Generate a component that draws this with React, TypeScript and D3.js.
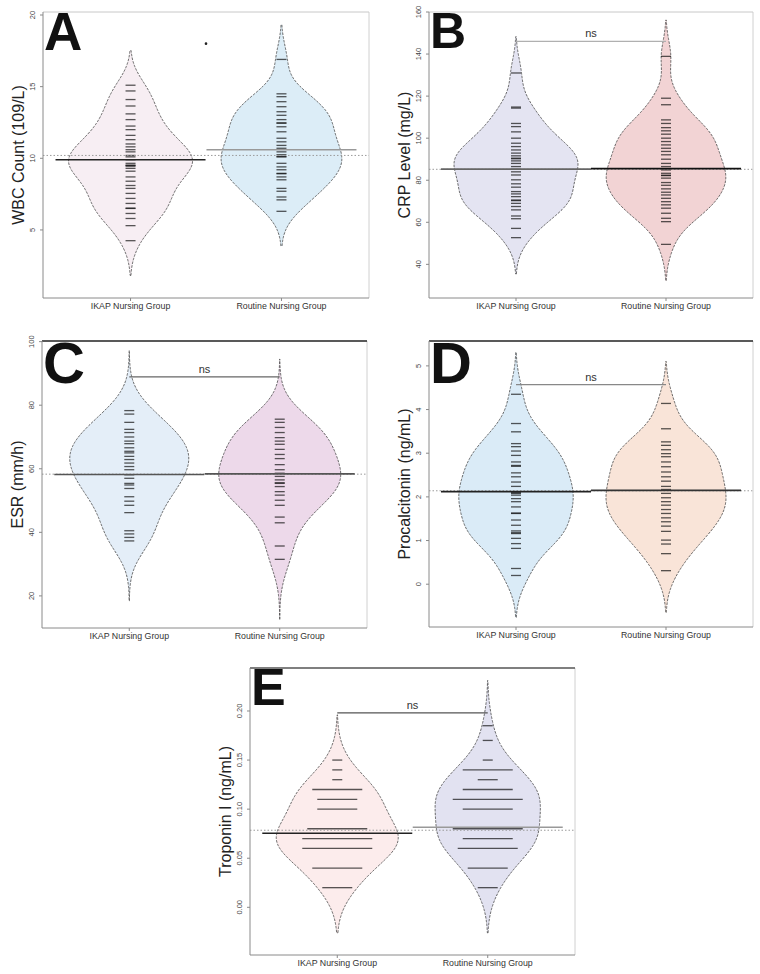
import React from 'react';
import * as d3 from 'd3';

const groups = ['IKAP Nursing Group', 'Routine Nursing Group'];

// A - WBC count
const wbcIkap = [15.1, 14.7, 14.1, 13.65, 13.1, 12.7, 12.25, 12.0, 11.6, 11.3, 11.0, 10.8, 10.6, 10.45, 10.2, 10.1, 9.9, 9.65, 9.5, 9.52, 9.45, 9.3, 9.1, 8.7, 8.4, 8.1, 7.9, 7.55, 7.2, 6.85, 6.5, 6.52, 6.15, 5.8, 5.3, 4.25];
const wbcRoutine = [16.9, 14.5, 14.3, 13.95, 13.6, 13.25, 13.0, 12.7, 12.45, 12.47, 12.2, 11.85, 11.4, 11.15, 10.9, 10.7, 10.45, 10.25, 10.1, 10.12, 9.65, 9.4, 9.2, 8.95, 8.92, 8.7, 8.5, 7.9, 7.7, 7.3, 7.1, 6.3];
const wbcMeans = [9.9, 10.6];
const wbcOverall = 10.2;
const wbcStray = 18;
const wbcTicks = [5, 10, 15, 20];

// B - CRP
const crpIkap = [131, 114.8, 114.3, 107, 105.5, 103, 100, 97.6, 96, 94.4, 92.9, 91.6, 90.5, 90.2, 89.2, 88, 86.5, 85.2, 84, 82.5, 80.2, 78.3, 76.7, 74.6, 73.5, 72.2, 70.6, 70.3, 69, 67.5, 65.9, 63, 61.7, 57.1, 52.7];
const crpRoutine = [138.9, 119, 115.9, 108.7, 107, 105, 103.5, 101.9, 100, 98.4, 96.8, 95.2, 93.7, 92.1, 90, 88, 86.5, 84.9, 83.3, 82.2, 82.4, 81, 78.9, 77.6, 75.9, 74.3, 73, 71.4, 69.8, 68.3, 66.7, 64.3, 61.9, 60.3, 49.5];
const crpMeans = [85.3, 85.5];
const crpOverall = 85.2;
const crpBracket = 146;
const crpTicks = [40, 60, 80, 100, 120, 140, 160];

// C - ESR
const esrIkap = [78.3, 77.2, 74.6, 72.4, 71.4, 70, 68.7, 67.9, 66.6, 65.5, 65, 63.9, 62.9, 61.8, 60.7, 59.7, 58.1, 57, 55.4, 54.9, 53.8, 51.2, 49.8, 48.5, 46.2, 40.5, 39.5, 38.4, 37.3];
const esrRoutine = [75.6, 74.6, 73, 71.4, 69.8, 68.7, 67.7, 66.1, 64.5, 63.2, 61.3, 59.7, 58.6, 57.6, 56.5, 55.6, 55.4, 54.4, 52.8, 51.7, 50.1, 48.5, 44.8, 43, 35.7, 31.5];
const esrMeans = [58.2, 58.4];
const esrOverall = 58.3;
const esrBracket = 88.9;
const esrTicks = [20, 40, 60, 80, 100];

// D - Procalcitonin
const pctIkap = [4.35, 3.68, 3.49, 3.22, 3.15, 3.05, 2.95, 2.8, 2.7, 2.72, 2.55, 2.46, 2.34, 2.24, 2.08, 2.1, 2.04, 1.96, 1.89, 1.77, 1.62, 1.63, 1.47, 1.35, 1.22, 1.16, 1.18, 1.05, 0.93, 0.82, 0.36, 0.2];
const pctRoutine = [4.14, 3.56, 3.26, 3.18, 3.08, 2.99, 2.92, 2.8, 2.69, 2.57, 2.46, 2.36, 2.24, 2.17, 2.08, 1.98, 1.89, 1.81, 1.71, 1.62, 1.52, 1.43, 1.33, 1.21, 1.01, 0.92, 0.7, 0.31];
const pctMeans = [2.12, 2.15];
const pctOverall = 2.14;
const pctBracket = 4.57;
const pctTicks = [0, 1, 2, 3, 4, 5];

// E - Troponin I (values with how many patients share each)
const tnIkap = [0.15, 0.14, 0.13, 0.12, 0.11, 0.10, 0.08, 0.07, 0.06, 0.04, 0.02];
const tnIkapCounts = [1, 1, 1, 5, 4, 4, 6, 7, 7, 5, 3];
const tnRoutine = [0.185, 0.17, 0.15, 0.14, 0.13, 0.12, 0.11, 0.10, 0.08, 0.07, 0.06, 0.04, 0.02];
const tnRoutineCounts = [1, 1, 1, 5, 2, 5, 7, 5, 7, 5, 6, 4, 2];
const tnMeans = [0.0755, 0.0815];
const tnOverall = 0.0785;
const tnBracket = 0.198;
const tnTicks = [0, 0.05, 0.1, 0.15, 0.2];

const FONT = '"Liberation Sans", Arial, sans-serif';

type PanelProps = {
  letter: string; letterSize: number;
  title: string;
  box: { x: number; y: number; w: number; h: number };
  domain: [number, number];
  ticks: number[]; fmt: (v: number) => string;
  series: number[][]; counts?: number[][];
  means: number[]; overall: number; bracket?: number; stray?: number;
  bw: number; cut: number; maxHalf: number;
  fills: string[]; meanColors: string[];
  topColor: string; topWidth: number; bracketColor: string;
};

function Panel(p: PanelProps) {
  const { box } = p;
  const x = d3.scaleLinear().domain([0.42, 2.58]).range([box.x, box.x + box.w]);
  const y = d3.scaleLinear().domain(p.domain).range([box.y + box.h, box.y]);
  const centers = [x(1), x(2)];
  const bottom = box.y + box.h;
  const countsOf = (gi: number) => p.counts ? p.counts[gi] : p.series[gi].map(() => 1);

  // gaussian kernel density for each bean, cut a few bandwidths past the data
  const dens = p.series.map((vals, gi) => {
    const cnt = countsOf(gi);
    const n = d3.sum(cnt);
    const lo = (d3.min(vals) as number) - p.cut * p.bw;
    const hi = (d3.max(vals) as number) + p.cut * p.bw;
    return d3.range(241).map(i => {
      const v = lo + ((hi - lo) * i) / 240;
      const d = d3.sum(vals, (xv, k) => cnt[k] * Math.exp(-0.5 * ((v - xv) / p.bw) ** 2));
      return { v, d: d / n };
    });
  });
  const dmax = d3.max(dens.flat(), d => d.d) as number;
  const wScale = d3.scaleLinear().domain([0, dmax]).range([0, p.maxHalf]);

  return (
    <g fontFamily={FONT}>
      {dens.map((pts, gi) => {
        const area = d3.area<{ v: number; d: number }>()
          .y(d => y(d.v))
          .x0(d => centers[gi] - wScale(d.d))
          .x1(d => centers[gi] + wScale(d.d))
          .curve(d3.curveBasis);
        return (
          <path key={gi} d={area(pts) || ''} fill={p.fills[gi]} stroke="#3a3a3a"
            strokeWidth={0.75} strokeDasharray="2.6 1.2" />
        );
      })}
      {p.series.map((vals, gi) => {
        const cnt = countsOf(gi);
        return vals.map((v, k) => (
          <line key={`${gi}-${k}`} x1={centers[gi] - 5 * cnt[k]} x2={centers[gi] + 5 * cnt[k]}
            y1={y(v)} y2={y(v)} stroke="#111" strokeOpacity={0.7} strokeWidth={1.3} />
        ));
      })}
      <line x1={box.x} x2={box.x + box.w} y1={y(p.overall)} y2={y(p.overall)}
        stroke="#9a9a9a" strokeWidth={1} strokeDasharray="1.5 2" />
      {p.means.map((m, gi) => (
        <line key={gi} x1={centers[gi] - 75} x2={centers[gi] + 75} y1={y(m)} y2={y(m)}
          stroke={p.meanColors[gi]} strokeWidth={1.6} />
      ))}
      {p.bracket !== undefined && (
        <g>
          <line x1={centers[0]} x2={centers[1]} y1={y(p.bracket)} y2={y(p.bracket)}
            stroke={p.bracketColor} strokeWidth={1.3} />
          <text x={(centers[0] + centers[1]) / 2} y={y(p.bracket) - 4} fontSize={11}
            textAnchor="middle" fill="#333">ns</text>
        </g>
      )}
      {p.stray !== undefined && (
        <circle cx={(centers[0] + centers[1]) / 2} cy={y(p.stray)} r={1.3} fill="#222" />
      )}
      <line x1={box.x + box.w} x2={box.x + box.w} y1={box.y} y2={bottom} stroke="#d0d0d0" strokeWidth={1} />
      <line x1={box.x} x2={box.x + box.w} y1={box.y} y2={box.y} stroke={p.topColor} strokeWidth={p.topWidth} />
      <line x1={box.x} x2={box.x} y1={box.y} y2={bottom} stroke="#8a8a8a" strokeWidth={1} />
      <line x1={box.x} x2={box.x + box.w} y1={bottom} y2={bottom} stroke="#8a8a8a" strokeWidth={1} />
      {p.ticks.map(t => (
        <g key={t}>
          <line x1={box.x - 3} x2={box.x} y1={y(t)} y2={y(t)} stroke="#8a8a8a" />
          <text transform={`translate(${box.x - 8},${y(t)}) rotate(-90)`} fontSize={7.5}
            textAnchor="middle" fill="#444">{p.fmt(t)}</text>
        </g>
      ))}
      {groups.map((g, gi) => (
        <g key={g}>
          <line x1={centers[gi]} x2={centers[gi]} y1={bottom} y2={bottom + 3} stroke="#8a8a8a" />
          <text x={centers[gi]} y={bottom + 11} fontSize={8.8} textAnchor="middle" fill="#333">{g}</text>
        </g>
      ))}
      <text transform={`translate(${box.x - 19},${box.y + box.h / 2}) rotate(-90)`} fontSize={16}
        textAnchor="middle" fill="#222">{p.title}</text>
      <text x={box.x + 1} y={box.y + p.letterSize * 0.72} fontSize={p.letterSize} fontWeight={700}
        fill="#111">{p.letter}</text>
    </g>
  );
}

export default function App() {
  const f0 = (v: number) => String(v);
  const f2 = (v: number) => v.toFixed(2);
  return (
    <svg width={760} height={974} style={{ position: 'absolute', left: 0, top: 0, background: '#fff' }}>
      <Panel letter="A" letterSize={53} title="WBC Count (109/L)"
        box={{ x: 43, y: 12, w: 326, h: 286 }} domain={[0.25, 20.21]} ticks={wbcTicks} fmt={f0}
        series={[wbcIkap, wbcRoutine]} means={wbcMeans} overall={wbcOverall} stray={wbcStray}
        bw={1.1} cut={2.2} maxHalf={62} fills={['#f7eef3', '#dcedf7']} meanColors={['#222', '#999']}
        topColor="#c8c8c8" topWidth={1} bracketColor="#aaa" />
      <Panel letter="B" letterSize={50} title="CRP Level (mg/L)"
        box={{ x: 429, y: 12, w: 324, h: 286 }} domain={[24, 160]} ticks={crpTicks} fmt={f0}
        series={[crpIkap, crpRoutine]} means={crpMeans} overall={crpOverall} bracket={crpBracket}
        bw={7.5} cut={2.3} maxHalf={62} fills={['#e4e4f2', '#f2d3d4']} meanColors={['#666', '#111']}
        topColor="#c8c8c8" topWidth={1} bracketColor="#b0b0b0" />
      <Panel letter="C" letterSize={58} title="ESR (mm/h)"
        box={{ x: 42, y: 341, w: 325, h: 287 }} domain={[9.9, 100.2]} ticks={esrTicks} fmt={f0}
        series={[esrIkap, esrRoutine]} means={esrMeans} overall={esrOverall} bracket={esrBracket}
        bw={6.3} cut={3} maxHalf={61} fills={['#e4eef8', '#edd9ea']} meanColors={['#555', '#555']}
        topColor="#222" topWidth={1.6} bracketColor="#666" />
      <Panel letter="D" letterSize={58} title="Procalcitonin (ng/mL)"
        box={{ x: 429, y: 341, w: 324, h: 286 }} domain={[-0.98, 5.57]} ticks={pctTicks} fmt={f0}
        series={[pctIkap, pctRoutine]} means={pctMeans} overall={pctOverall} bracket={pctBracket}
        bw={0.4} cut={2.4} maxHalf={60} fills={['#daebf7', '#f9e4d8']} meanColors={['#222', '#333']}
        topColor="#222" topWidth={1.6} bracketColor="#888" />
      <Panel letter="E" letterSize={52} title="Troponin I (ng/mL)"
        box={{ x: 250, y: 668, w: 325, h: 287 }} domain={[-0.0486, 0.2438]} ticks={tnTicks} fmt={f2}
        series={[tnIkap, tnRoutine]} counts={[tnIkapCounts, tnRoutineCounts]}
        means={tnMeans} overall={tnOverall} bracket={tnBracket}
        bw={0.02} cut={2.3} maxHalf={61} fills={['#fcecec', '#e2e2f1']} meanColors={['#222', '#999']}
        topColor="#555" topWidth={1.3} bracketColor="#555" />
    </svg>
  );
}
